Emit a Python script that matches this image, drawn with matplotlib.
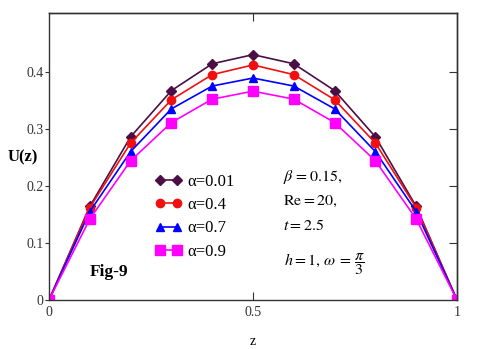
import matplotlib
matplotlib.use("Agg")
import matplotlib.pyplot as plt

z = [0.0, 0.1, 0.2, 0.3, 0.4, 0.5, 0.6, 0.7, 0.8, 0.9, 1.0]
u_001 = [0.0, 0.164, 0.286, 0.367, 0.414, 0.430, 0.414, 0.367, 0.286, 0.164, 0.0]
u_04 = [0.0, 0.162, 0.275, 0.351, 0.395, 0.412, 0.395, 0.351, 0.275, 0.162, 0.0]
u_07 = [0.0, 0.155, 0.260, 0.335, 0.375, 0.389, 0.375, 0.335, 0.260, 0.155, 0.0]
u_09 = [0.0, 0.142, 0.244, 0.311, 0.352, 0.366, 0.352, 0.311, 0.244, 0.142, 0.0]
labels = ["\u03b1=0.01", "\u03b1=0.4", "\u03b1=0.7", "\u03b1=0.9"]

plt.rcParams['font.family'] = ['Liberation Serif', 'DejaVu Serif']
plt.rcParams['mathtext.fontset'] = 'stix'

fig = plt.figure(figsize=(4.8, 3.49), dpi=100)
ax = fig.add_axes([49/480, 1-300/349, 408/480, 287/349])

series = [
    (u_001, '#4B0F45', 'D', 5.0),
    (u_04, '#F01010', 'o', 6.0),
    (u_07, '#0000FF', '^', 6.0),
    (u_09, '#FF00FF', 's', 6.5),
]
for (vals, col, mk, ms), lab in zip(series, labels):
    ax.plot(z, vals, color=col, marker=mk, markersize=ms, linewidth=1.2,
            label=lab, clip_on=True)

ax.set_xlim(0, 1)
ax.set_ylim(0, 0.503)
ax.set_xticks([0, 0.5, 1])
ax.set_xticklabels(['0', '0.5', '1'])
ax.set_yticks([0, 0.1, 0.2, 0.3, 0.4])
ax.set_yticklabels(['0', '0.1', '0.2', '0.3', '0.4'])
ax.tick_params(axis='y', direction='out', length=3, width=0.8, labelsize=10,
               colors='#333333', pad=1, right=False)
ax.tick_params(axis='x', direction='in', length=6, width=0.8, labelsize=10,
               colors='#333333', pad=4, top=False)
for tl in ax.get_xticklabels() + ax.get_yticklabels():
    tl.set_color('#333333')

sec_y = ax.secondary_yaxis('right')
sec_y.set_yticks([0.1, 0.2, 0.3, 0.4])
sec_y.tick_params(direction='in', length=6, width=0.8, labelright=False, colors='#333333')
sec_x = ax.secondary_xaxis('top')
sec_x.set_xticks([0.5])
sec_x.tick_params(direction='in', length=6, width=0.8, labeltop=False, colors='#333333')
for s in list(ax.spines.values()) + list(sec_y.spines.values()) + list(sec_x.spines.values()):
    s.set_color('#333333')
    s.set_linewidth(1.0)

ax.set_xlabel('z', fontsize=10, labelpad=12)
fig.text(8/480, 1-157/349, 'U(z)', fontsize=12, fontweight='bold', va='center', ha='left')

leg = ax.legend(loc='upper left', bbox_to_anchor=(155/480, 1-174/349),
                bbox_transform=fig.transFigure,
                frameon=False, numpoints=2, handlelength=1.6, fontsize=12,
                labelspacing=0.43, handletextpad=0.35, borderaxespad=0, borderpad=0)

fig.text(283/480, 1-177/349, r'$\beta\, = 0.15,$', fontsize=11.5, va='center', ha='left')
fig.text(283/480, 1-201/349, r'$\mathrm{Re} = 20,$', fontsize=11.5, va='center', ha='left')
fig.text(283/480, 1-226/349, r'$t = 2.5$', fontsize=11.5, va='center', ha='left')
fig.text(284/480, 1-264/349, r'$h = 1,\, \omega\, = \,\dfrac{\pi}{3}$', fontsize=11.5, va='center', ha='left')
fig.text(90/480, 1-272/349, 'Fig-9', fontsize=12.5, fontweight='bold', va='center', ha='left')

fig.savefig('out.png', dpi=100)
